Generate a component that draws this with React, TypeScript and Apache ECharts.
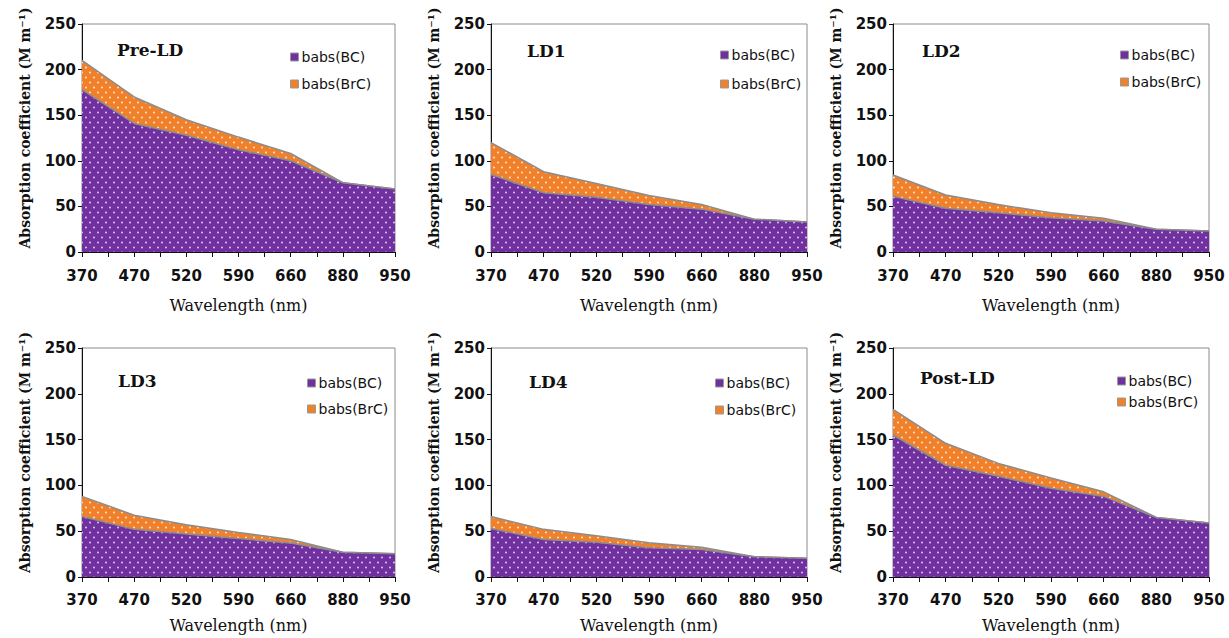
import React, { useEffect, useRef } from 'react';
import * as echarts from 'echarts';

const wavelengths = ['370', '470', '520', '590', '660', '880', '950'];
const panelTitles = ['Pre-LD', 'LD1', 'LD2', 'LD3', 'LD4', 'Post-LD'];
const seriesNames = ['babs(BC)', 'babs(BrC)'];
const yTicks = [0, 250, 50];

const bcPreLD = [178, 141, 128, 112, 100, 76, 69];
const brcPreLD = [32, 29, 17, 14, 8, 0, 0];
const bcLD1 = [85, 65, 60, 52, 47, 36, 33];
const brcLD1 = [35, 23, 15, 10, 5, 0, 0];
const bcLD2 = [61, 48, 43, 37.5, 34, 25, 23];
const brcLD2 = [23.5, 14.5, 9, 5.5, 3, 0, 0];
const bcLD3 = [66, 52, 47, 42, 37, 27, 25.5];
const brcLD3 = [22, 15.5, 10, 6.5, 4, 0, 0];
const bcLD4 = [53, 41, 38, 32, 30, 22, 20.5];
const brcLD4 = [13, 11, 7, 5.5, 2.5, 0, 0];
const bcPostLD = [155, 122, 110, 97, 88, 65, 59];
const brcPostLD = [28, 24, 14, 11, 5, 0, 0];

const bcAll = [bcPreLD, bcLD1, bcLD2, bcLD3, bcLD4, bcPostLD];
const brcAll = [brcPreLD, brcLD1, brcLD2, brcLD3, brcLD4, brcPostLD];

const PURPLE = '#7030A0';
const ORANGE = '#F0802A';

function makePattern(bg: string, dot: string) {
  const c = document.createElement('canvas');
  c.width = 8;
  c.height = 10;
  const ctx = c.getContext('2d')!;
  ctx.fillStyle = bg;
  ctx.fillRect(0, 0, 8, 10);
  ctx.fillStyle = dot;
  ctx.beginPath();
  ctx.arc(2, 2.5, 0.9, 0, Math.PI * 2);
  ctx.fill();
  ctx.beginPath();
  ctx.arc(6, 7.5, 0.9, 0, Math.PI * 2);
  ctx.fill();
  return { image: c.toDataURL(), repeat: 'repeat', imageWidth: 8, imageHeight: 10 };
}

const cols = [
  { left: 82, width: 313 },
  { left: 491, width: 316 },
  { left: 893, width: 316 },
];
const rows = [
  { top: 24, height: 228, labelMargin: 16, nameGap: 45 },
  { top: 348, height: 229, labelMargin: 15, nameGap: 40 },
];
const titlePos = [
  { left: 117, top: 41 },
  { left: 527, top: 42 },
  { left: 922, top: 42 },
  { left: 118, top: 372 },
  { left: 529, top: 373 },
  { left: 920, top: 369 },
];
const legendPos = [
  { left: 290, top: 50, gap: 13 },
  { left: 720, top: 48, gap: 15 },
  { left: 1120, top: 48, gap: 13 },
  { left: 307, top: 376, gap: 12 },
  { left: 715, top: 376, gap: 13 },
  { left: 1117, top: 374, gap: 7 },
];

export default function App() {
  const ref = useRef<HTMLDivElement>(null);
  useEffect(() => {
    if (!ref.current) return;
    const chart = echarts.init(ref.current, undefined, { renderer: 'svg' });
    const purplePat = makePattern(PURPLE, '#e6d8f2');
    const orangePat = makePattern(ORANGE, '#fff0e0');

    const grids: any[] = [];
    const xAxes: any[] = [];
    const yAxes: any[] = [];
    const series: any[] = [];
    const titles: any[] = [];
    const legends: any[] = [];

    for (let i = 0; i < 6; i++) {
      const r = rows[Math.floor(i / 3)];
      const c = cols[i % 3];
      grids.push({
        left: c.left,
        top: r.top,
        width: c.width,
        height: r.height,
        show: true,
        borderColor: '#8a8a8a',
        borderWidth: 1,
        backgroundColor: 'transparent',
      });
      xAxes.push({
        type: 'value',
        gridIndex: i,
        min: 0,
        max: (wavelengths.length - 1) * 2,
        interval: 2,
        name: 'Wavelength (nm)',
        nameLocation: 'middle',
        nameGap: r.nameGap,
        nameTextStyle: { fontFamily: 'DejaVu Serif', fontSize: 16, color: '#111' },
        axisLine: { show: true, lineStyle: { color: '#111', width: 1 } },
        axisTick: { show: true, length: 5, lineStyle: { color: '#111' } },
        minorTick: { show: true, splitNumber: 2, length: 5, lineStyle: { color: '#111' } },
        splitLine: { show: false },
        minorSplitLine: { show: false },
        axisLabel: {
          margin: r.labelMargin,
          fontFamily: 'DejaVu Sans',
          fontSize: 15,
          fontWeight: 'bold',
          color: '#111',
          formatter: (v: number) => wavelengths[Math.round(v / 2)] ?? '',
        },
      });
      yAxes.push({
        type: 'value',
        gridIndex: i,
        min: yTicks[0],
        max: yTicks[1],
        interval: yTicks[2],
        name: 'Absorption coefficient (M m\u207B\u00B9)',
        nameLocation: 'middle',
        nameGap: 50,
        nameTextStyle: {
          fontFamily: 'DejaVu Serif',
          fontSize: 14,
          fontWeight: 'bold',
          color: '#111',
          padding: [0, 0, 0, 20],
        },
        axisLine: { show: true, lineStyle: { color: '#111', width: 1 } },
        axisTick: { show: true, length: 4, lineStyle: { color: '#111' } },
        splitLine: { show: false },
        axisLabel: {
          margin: 6,
          fontFamily: 'DejaVu Sans',
          fontSize: 15,
          fontWeight: 'bold',
          color: '#111',
        },
      });
      const bc = bcAll[i];
      const brc = brcAll[i];
      // BrC area is drawn as the cumulative top (BC + BrC); BC is painted over it.
      series.push({
        name: seriesNames[1],
        type: 'line',
        xAxisIndex: i,
        yAxisIndex: i,
        symbol: 'none',
        data: brc.map((v, k) => [k * 2, bc[k] + v]),
        lineStyle: { color: '#8c8c8c', width: 1.5 },
        itemStyle: { color: ORANGE },
        areaStyle: { color: orangePat, opacity: 1 },
        z: 2,
      });
      series.push({
        name: seriesNames[0],
        type: 'line',
        xAxisIndex: i,
        yAxisIndex: i,
        symbol: 'none',
        data: bc.map((v, k) => [k * 2, v]),
        lineStyle: { color: '#8c8c8c', width: 1.5 },
        itemStyle: { color: PURPLE },
        areaStyle: { color: purplePat, opacity: 1 },
        z: 3,
      });
      titles.push({
        text: panelTitles[i],
        left: titlePos[i].left,
        top: titlePos[i].top,
        padding: 0,
        textStyle: { fontFamily: 'DejaVu Serif', fontSize: 17, fontWeight: 'bold', color: '#111' },
      });
      legends.push({
        orient: 'vertical',
        left: legendPos[i].left,
        top: legendPos[i].top,
        padding: 0,
        itemGap: legendPos[i].gap,
        itemWidth: 8,
        itemHeight: 8,
        icon: 'rect',
        selectedMode: false,
        textStyle: { fontFamily: 'DejaVu Sans', fontSize: 14, color: '#111', padding: [0, 0, 0, -2] },
        data: [
          { name: seriesNames[0], itemStyle: { color: PURPLE, borderColor: '#999', borderWidth: 1 } },
          { name: seriesNames[1], itemStyle: { color: ORANGE, borderColor: '#999', borderWidth: 1 } },
        ],
      });
    }

    chart.setOption({
      animation: false,
      backgroundColor: '#ffffff',
      title: titles,
      legend: legends,
      grid: grids,
      xAxis: xAxes,
      yAxis: yAxes,
      series,
    });
    return () => chart.dispose();
  }, []);
  return (
    <div
      ref={ref}
      style={{ position: 'absolute', left: 0, top: 0, width: 1229, height: 638 }}
    />
  );
}
